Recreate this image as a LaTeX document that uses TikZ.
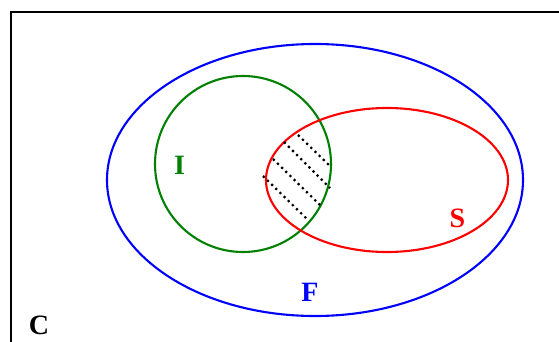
\documentclass[tikz,border=0pt]{standalone}
\usepackage{fontspec}
\setmainfont{Liberation Serif}
\tikzset{
  setline/.style={line width=2.1pt},
  hatch/.style={black, line width=2.2pt, dash pattern=on 2.2pt off 3.6pt},
  lab/.style={font=\fontsize{28}{32}\selectfont\bfseries, inner sep=0pt, anchor=center}
}
\begin{document}
\begin{tikzpicture}[x=1pt,y=-1pt]
\useasboundingbox (0,0) rectangle (559,342);
\clip (0,0) rectangle (559,342);
\fill[white] (0,0) rectangle (559,342);
% frame
\draw[black, line width=2.4pt] (11,12) rectangle (600,400);
% sets
\draw[setline, blue] (315,180) ellipse [x radius=208pt, y radius=136pt];
\draw[setline, green!50!black] (243,164) ellipse [x radius=88pt, y radius=88pt];
\draw[setline, red] (387,180) ellipse [x radius=121pt, y radius=72pt];
% hatching of the intersection
\draw[hatch] (298,135) -- (330,166);
\draw[hatch] (284,142) -- (330,188);
\draw[hatch] (273,159) -- (320,205);
\draw[hatch] (263,176) -- (308,220);
% labels
\node[lab, green!50!black] (I) at (179.5,165) {I};
\node[lab, red] (S) at (457.5,218.5) {S};
\node[lab, blue] (F) at (310,292.5) {F};
\node[lab, black] (C) at (39,325) {C};
\end{tikzpicture}
\end{document}
